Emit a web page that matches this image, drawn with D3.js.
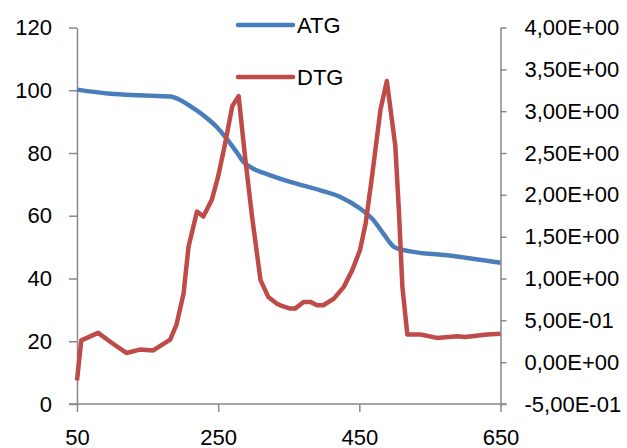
<!DOCTYPE html>
<html>
<head>
<meta charset="utf-8">
<script src="https://cdn.jsdelivr.net/npm/d3@7"></script>
<style>
  html, body { margin: 0; padding: 0; background: #fff; }
  svg { display: block; }
  text { font-family: "Liberation Sans", Arial, sans-serif; fill: #000; }
</style>
</head>
<body>
<script>
// ---- Data ----
const seriesNames = ["ATG", "DTG"];
const xTicks = [50, 250, 450, 650];
const leftTicks = [0, 20, 40, 60, 80, 100, 120];
const rightTicks = [-0.5, 0, 0.5, 1, 1.5, 2, 2.5, 3, 3.5, 4];

const atgT = [50, 97, 139, 182, 196, 210, 229, 248, 262, 276, 286, 300, 324, 352, 395, 423, 451, 470, 484, 499, 518, 574, 650];
const atgV = [100.2, 98.9, 98.4, 98.0, 96.9, 95.0, 92.0, 88.3, 84.6, 80.3, 77.1, 75.0, 72.9, 70.8, 68.1, 66.0, 62.3, 58.6, 54.3, 50.1, 48.8, 47.4, 45.0];

const dtgT = [50, 56, 80, 101, 120, 139, 158, 182, 191, 201, 208, 220, 229, 241, 250, 260, 270, 279, 288, 298, 310, 321, 333, 338, 352, 359, 371, 381, 390, 399, 414, 428, 440, 451, 459, 468, 480, 489, 501, 506, 511, 518, 537, 560, 589, 600, 631, 650];
const dtgV = [-0.22, 0.26, 0.35, 0.22, 0.11, 0.15, 0.14, 0.27, 0.45, 0.82, 1.38, 1.80, 1.74, 1.94, 2.22, 2.62, 3.06, 3.18, 2.46, 1.74, 0.98, 0.78, 0.70, 0.68, 0.64, 0.64, 0.72, 0.72, 0.68, 0.68, 0.76, 0.90, 1.10, 1.34, 1.66, 2.22, 3.02, 3.36, 2.58, 1.82, 0.90, 0.33, 0.33, 0.29, 0.31, 0.30, 0.33, 0.34];

// ---- Layout ----
const W = 627, H = 448;
const x0 = 77, x1 = 500.5, yTop = 27.5, yBot = 404;
const colors = { ATG: "#4A7EBB", DTG: "#BE4B48" };
const axisColor = "#898989";
const fontSize = 22;

const svg = d3.select("body").append("svg").attr("width", W).attr("height", H);

const x = d3.scaleLinear().domain([50, 650]).range([x0, x1]);
const yL = d3.scaleLinear().domain([0, 120]).range([yBot, yTop]);
const yR = d3.scaleLinear().domain([-0.5, 4]).range([yBot, yTop]);

function sciFmt(v) {
  const s = v.toExponential(2);
  let [m, e] = s.split("e");
  let en = parseInt(e, 10);
  const sign = en < 0 ? "-" : "+";
  en = Math.abs(en);
  return m.replace(".", ",") + "E" + sign + String(en).padStart(2, "0");
}

function styleAxis(g) {
  g.selectAll("path.domain").attr("stroke", axisColor).attr("stroke-width", 1.5);
  g.selectAll(".tick line").attr("stroke", axisColor).attr("stroke-width", 1.5);
  g.selectAll("text").attr("font-size", fontSize).attr("font-family", "Liberation Sans, Arial, sans-serif").attr("fill", "#000");
}

// Left axis
const gL = svg.append("g").attr("transform", `translate(${x0},0)`)
  .call(d3.axisLeft(yL).tickValues(leftTicks).tickSize(8).tickSizeOuter(0).tickPadding(17).tickFormat(d3.format("d")));
styleAxis(gL);

// Right axis
const gR = svg.append("g").attr("transform", `translate(${x1},0)`)
  .call(d3.axisRight(yR).tickValues(rightTicks).tickSize(6).tickSizeOuter(0).tickPadding(18).tickFormat(sciFmt));
styleAxis(gR);

// Bottom axis
const gB = svg.append("g").attr("transform", `translate(0,${yBot})`)
  .call(d3.axisBottom(x).tickValues(xTicks).tickSize(8).tickSizeOuter(0).tickPadding(17).tickFormat(d3.format("d")));
styleAxis(gB);
gB.select("path.domain").attr("d", `M${x0 - 8},0H${x1 + 6}`);

// Lines
const atgData = atgT.map((t, i) => [t, atgV[i]]);
const dtgData = dtgT.map((t, i) => [t, dtgV[i]]);

svg.append("path")
  .datum(atgData)
  .attr("fill", "none")
  .attr("stroke", colors.ATG)
  .attr("stroke-width", 4.5)
  .attr("stroke-linejoin", "round")
  .attr("d", d3.line().curve(d3.curveMonotoneX).x(d => x(d[0])).y(d => yL(d[1])));

svg.append("path")
  .datum(dtgData)
  .attr("fill", "none")
  .attr("stroke", colors.DTG)
  .attr("stroke-width", 4.5)
  .attr("stroke-linejoin", "round")
  .attr("d", d3.line().x(d => x(d[0])).y(d => yR(d[1])));

// Legend
const legendY = [25, 77];
seriesNames.forEach((name, i) => {
  const g = svg.append("g");
  g.append("line")
    .attr("x1", 238).attr("x2", 293)
    .attr("y1", legendY[i]).attr("y2", legendY[i])
    .attr("stroke", colors[name]).attr("stroke-width", 4.5).attr("stroke-linecap", "round");
  g.append("text")
    .attr("x", 297).attr("y", legendY[i] + 8)
    .attr("font-size", fontSize)
    .text(name);
});
</script>
</body>
</html>
